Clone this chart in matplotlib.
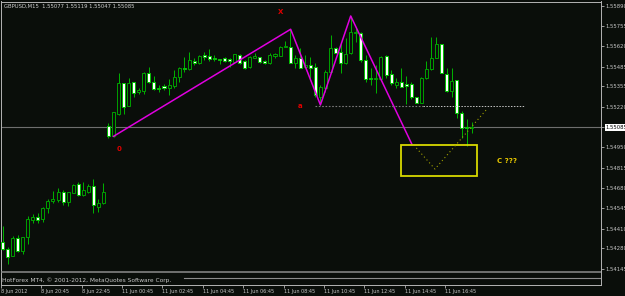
"""
GBPUSD M15 - gráfico de velas no estilo MetaTrader 4 (fundo preto, velas verdes),
com o zigue-zague X-a-0, o nível tracejado de 'a' e a caixa do ponto C.
"""

import matplotlib
matplotlib.use("Agg")
import matplotlib.pyplot as plt
import numpy as np

# ---------- dados ----------
symbol_title = "GBPUSD,M15  1.55077 1.55119 1.55047 1.55085"

opens = [
    1.54321, 1.54276, 1.54232, 1.54347, 1.54265, 1.54354, 1.54468, 1.54486, 1.54473, 1.54546,
    1.54596, 1.54601, 1.54656, 1.54590, 1.54649, 1.54707, 1.54632, 1.54656, 1.54696, 1.54557,
    1.54579, 1.55094, 1.55023, 1.55169, 1.55375, 1.55226, 1.55381, 1.55315, 1.55326, 1.55441,
    1.55385, 1.55344, 1.55357, 1.55346, 1.55359, 1.55418, 1.55478, 1.55470, 1.55525, 1.55507,
    1.55562, 1.55556, 1.55540, 1.55536, 1.55544, 1.55536, 1.55518, 1.55562, 1.55525, 1.55481,
    1.55544, 1.55547, 1.55525, 1.55507, 1.55558, 1.55558, 1.55615, 1.55613, 1.55511, 1.55540,
    1.55485, 1.55496, 1.55485, 1.55286, 1.55342, 1.55452, 1.55607, 1.55584, 1.55507, 1.55574,
    1.55706, 1.55706, 1.55529, 1.55410, 1.55403, 1.55403, 1.55556, 1.55436, 1.55363, 1.55381,
    1.55368, 1.55368, 1.55284, 1.55246, 1.55408, 1.55470, 1.55544, 1.55633, 1.55434, 1.55324,
    1.55395, 1.55180, 1.55085, 1.55077,
]
highs = [
    1.54429, 1.54291, 1.54362, 1.54369, 1.54358, 1.54495, 1.54508, 1.54513, 1.54557, 1.54606,
    1.54661, 1.54679, 1.54667, 1.54656, 1.54707, 1.54722, 1.54718, 1.54707, 1.54738, 1.54606,
    1.54712, 1.55110, 1.55184, 1.55441, 1.55377, 1.55408, 1.55385, 1.55342, 1.55450, 1.55481,
    1.55425, 1.55363, 1.55368, 1.55403, 1.55463, 1.55485, 1.55551, 1.55580, 1.55544, 1.55562,
    1.55584, 1.55600, 1.55562, 1.55536, 1.55551, 1.55540, 1.55569, 1.55567, 1.55529, 1.55556,
    1.55574, 1.55551, 1.55529, 1.55574, 1.55578, 1.55624, 1.55655, 1.55733, 1.55560, 1.55607,
    1.55562, 1.55551, 1.55507, 1.55363, 1.55463, 1.55695, 1.55617, 1.55640, 1.55673, 1.55821,
    1.55750, 1.55717, 1.55562, 1.55474, 1.55496, 1.55556, 1.55559, 1.55463, 1.55412, 1.55478,
    1.55423, 1.55385, 1.55287, 1.55418, 1.55523, 1.55684, 1.55684, 1.55635, 1.55474, 1.55474,
    1.55397, 1.55191, 1.55135, 1.55119,
]
lows = [
    1.54269, 1.54177, 1.54230, 1.54258, 1.54241, 1.54309, 1.54450, 1.54450, 1.54457, 1.54513,
    1.54579, 1.54590, 1.54568, 1.54563, 1.54645, 1.54630, 1.54630, 1.54645, 1.54513, 1.54523,
    1.54574, 1.55014, 1.55019, 1.55165, 1.55171, 1.55224, 1.55282, 1.55302, 1.55304, 1.55375,
    1.55330, 1.55319, 1.55330, 1.55294, 1.55342, 1.55385, 1.55452, 1.55463, 1.55496, 1.55503,
    1.55529, 1.55523, 1.55525, 1.55501, 1.55518, 1.55485, 1.55514, 1.55501, 1.55468, 1.55478,
    1.55540, 1.55511, 1.55503, 1.55503, 1.55544, 1.55554, 1.55612, 1.55507, 1.55476, 1.55474,
    1.55474, 1.55397, 1.55286, 1.55231, 1.55319, 1.55448, 1.55574, 1.55441, 1.55504, 1.55567,
    1.55651, 1.55518, 1.55385, 1.55363, 1.55308, 1.55397, 1.55408, 1.55363, 1.55342, 1.55350,
    1.55235, 1.55269, 1.55242, 1.55242, 1.55403, 1.55463, 1.55540, 1.55441, 1.55315, 1.55286,
    1.55145, 1.55014, 1.54962, 1.55047,
]
closes = [
    1.54276, 1.54225, 1.54347, 1.54265, 1.54354, 1.54473, 1.54486, 1.54468, 1.54546, 1.54596,
    1.54606, 1.54656, 1.54586, 1.54652, 1.54698, 1.54634, 1.54665, 1.54694, 1.54568, 1.54579,
    1.54656, 1.55023, 1.55182, 1.55375, 1.55220, 1.55375, 1.55312, 1.55330, 1.55441, 1.55385,
    1.55337, 1.55337, 1.55346, 1.55361, 1.55418, 1.55474, 1.55468, 1.55529, 1.55511, 1.55558,
    1.55547, 1.55536, 1.55534, 1.55531, 1.55525, 1.55525, 1.55567, 1.55507, 1.55474, 1.55551,
    1.55558, 1.55514, 1.55507, 1.55562, 1.55567, 1.55615, 1.55622, 1.55511, 1.55540, 1.55478,
    1.55496, 1.55478, 1.55297, 1.55348, 1.55452, 1.55607, 1.55578, 1.55511, 1.55569, 1.55713,
    1.55717, 1.55529, 1.55403, 1.55400, 1.55412, 1.55551, 1.55430, 1.55375, 1.55381, 1.55352,
    1.55355, 1.55284, 1.55246, 1.55408, 1.55468, 1.55544, 1.55633, 1.55445, 1.55324, 1.55390,
    1.55180, 1.55080, 1.55077, 1.55085,
]

last_price = 1.55085
price_ticks = [1.55890, 1.55755, 1.55620, 1.55485, 1.55355, 1.55220, 1.55085,
               1.54950, 1.54815, 1.54680, 1.54545, 1.54410, 1.54280, 1.54145]
time_tick_bars = [0, 8, 16, 24, 32, 40, 48, 56, 64, 72, 80, 88]
time_tick_labels = ["8 Jun 2012", "8 Jun 20:45", "8 Jun 22:45", "11 Jun 00:45",
                    "11 Jun 02:45", "11 Jun 04:45", "11 Jun 06:45", "11 Jun 08:45",
                    "11 Jun 10:45", "11 Jun 12:45", "11 Jun 14:45", "11 Jun 16:45"]

# objetos desenhados à mão no MT4
zigzag_bars = [22.0, 57.1, 63.0, 69.0, 81.1]
zigzag_prices = [1.55023, 1.55733, 1.55231, 1.55821, 1.54972]
level_price = 1.55224
level_dark_bars = [62.0, 83.4]
level_light_bars = [83.4, 103.6]
box_bars = [78.95, 94.1]
box_prices = [1.54760, 1.54966]
v_bars = [82.0, 85.7, 96.0]
v_prices = [1.54946, 1.54806, 1.55204]
marks = [("X", 55.0, 1.55847), ("a", 59.0, 1.55221), ("0", 23.0, 1.54939)]
c_label = ("C ???", 98.0, 1.54860)

# ---------- estilo ----------
W, H = 625, 296
BG = "#0a0e0a"
GRID = "#b4b4b4"
TXT = "#c8c8c8"
FS = 3.8

fig = plt.figure(figsize=(W / 100, H / 100), dpi=100, facecolor=BG)
# área do gráfico: x 1..601 px, y 1.5..285 px
ax = fig.add_axes([1 / W, (H - 285) / H, 600 / W, 283.5 / H], facecolor=BG)
ax.set_xlim(-0.2, 118.6)
ax.set_ylim(1.54037, 1.55917)

o = np.asarray(opens)
h = np.asarray(highs)
l = np.asarray(lows)
c = np.asarray(closes)
x = np.arange(len(o))
bull = c >= o

# pavios + corpos
ax.vlines(x, l, h, colors="#00b400", linewidth=0.7, zorder=2)
ax.bar(x, np.abs(c - o), bottom=np.minimum(o, c), width=0.6,
       color=np.where(bull, BG, "white"),
       edgecolor=np.where(bull, "#00a000", "#00c000"),
       linewidth=0.7, zorder=3)

# linha do preço atual
ax.axhline(last_price, color="#6e6e6e", linewidth=0.8, zorder=1)

# zigue-zague
ax.plot(zigzag_bars, zigzag_prices, color="#e000e0", linewidth=1.1, zorder=4)

# nível de 'a' (tracejado)
ax.plot(level_dark_bars, [level_price] * 2, color="#7a7a7a", linewidth=0.8,
        linestyle=(0, (1.5, 1.5)), zorder=4)
ax.plot(level_light_bars, [level_price] * 2, color="#c4c4c4", linewidth=0.7,
        linestyle=(0, (1.5, 1.5)), zorder=4)

# caixa amarela e projeção pontilhada
ax.add_patch(plt.Rectangle((box_bars[0], box_prices[0]), box_bars[1] - box_bars[0],
                           box_prices[1] - box_prices[0], fill=False,
                           edgecolor="#d8d800", linewidth=1.3, zorder=4))
ax.plot(v_bars, v_prices, color="#a0a000", linewidth=0.8,
        linestyle=(0, (1, 2.5)), zorder=4)

for txt, bx, py in marks:
    ax.text(bx, py, txt, color="#e00000", fontsize=5, fontweight="bold",
            ha="center", va="center", zorder=5)
ax.text(c_label[1], c_label[2], c_label[0], color="#e8c800", fontsize=5,
        fontweight="bold", ha="left", va="center", zorder=5)

# eixo de preços à direita
ax.yaxis.tick_right()
ax.set_yticks(price_ticks)
ax.set_yticklabels([f"{p:.5f}" for p in price_ticks])
ax.tick_params(axis="y", length=2, width=0.6, color=GRID, pad=1.5,
               labelsize=FS, labelcolor=TXT)
lab = ax.get_yticklabels()[price_ticks.index(last_price)]
lab.set_color("black")
lab.set_bbox(dict(facecolor="white", edgecolor="none", pad=0.6))

# eixo de tempo
ax.set_xticks([b - 0.3 for b in time_tick_bars])
ax.set_xticklabels(time_tick_labels, ha="left")
ax.tick_params(axis="x", length=2, width=0.6, color=GRID, pad=0.8,
               labelsize=FS - 0.3, labelcolor=TXT)

for sp in ax.spines.values():
    sp.set_color(GRID)
    sp.set_linewidth(0.7)

# faixa inferior com o copyright
ax.axhline(1.54037 + (1.55917 - 1.54037) * 0.046, color="#8c8c8c", linewidth=1.1, zorder=6)
ax.plot([0.305, 1.0], [0.023, 0.023], transform=ax.transAxes, color="#8c8c8c",
        linewidth=0.8, zorder=6)
ax.text(0.002, 0.016, "HotForex MT4, © 2001-2012, MetaQuotes Software Corp.",
        transform=ax.transAxes, color=TXT, fontsize=4.2, va="center", ha="left", zorder=6)

fig.text(4 / W, 1 - 6.5 / H, symbol_title, color="#d0d0d0", fontsize=FS, va="center")

fig.savefig("out.png", dpi=100, facecolor=BG)
